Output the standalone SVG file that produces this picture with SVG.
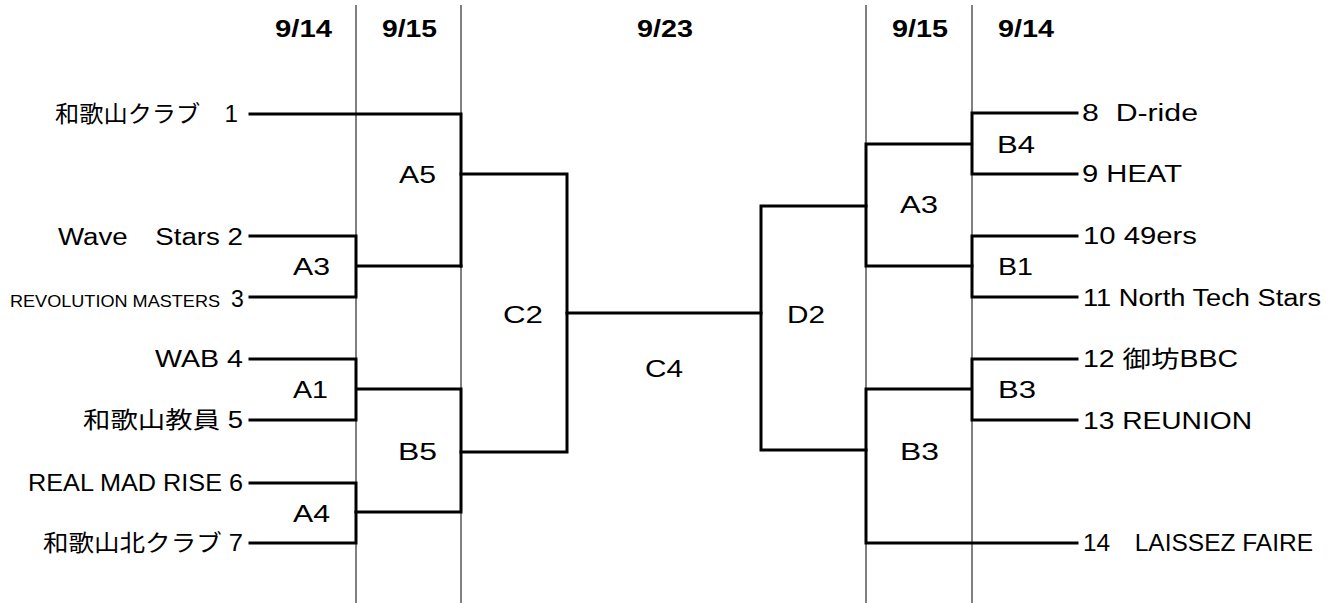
<svg xmlns="http://www.w3.org/2000/svg" width="1339" height="603" viewBox="0 0 1339 603">
<style>
.grid{stroke:#000;stroke-width:1;fill:none}
.br{stroke:#000;stroke-width:3;fill:none;stroke-linejoin:miter;stroke-linecap:square}
.t{font-family:"Liberation Sans","Noto Sans CJK JP",sans-serif;font-size:23px;fill:#000}
.s{font-size:17px}
.h{font-family:"Liberation Sans","Noto Sans CJK JP",sans-serif;font-size:23px;font-weight:bold;fill:#000}
</style>
<rect width="1339" height="603" fill="#fff"/>
<g id="grid">
<path class="grid" d="M356 5V603M461 5V603M866 5V603M972 5V603"/>
</g>
<g id="headers">
<text class="h" x="275" y="37" textLength="57" lengthAdjust="spacingAndGlyphs">9/14</text>
<text class="h" x="382" y="37" textLength="55" lengthAdjust="spacingAndGlyphs">9/15</text>
<text class="h" x="637" y="37" textLength="56" lengthAdjust="spacingAndGlyphs">9/23</text>
<text class="h" x="892" y="37" textLength="56" lengthAdjust="spacingAndGlyphs">9/15</text>
<text class="h" x="998" y="37" textLength="56" lengthAdjust="spacingAndGlyphs">9/14</text>
</g>
<g id="connectors">
<path class="br" d="M250 114H461V266"/>
<path class="br" d="M250 236H356V297H250M356 266H461"/>
<path class="br" d="M461 174H567V452H461"/>
<path class="br" d="M567 313H761"/>
<path class="br" d="M250 359H356V420H250M356 389H461V512H356"/>
<path class="br" d="M250 483H356V543H250"/>
<path class="br" d="M1077 113H972V174H1077M972 144H866V266H972"/>
<path class="br" d="M1077 236H972V297H1077"/>
<path class="br" d="M866 206H761V450H866"/>
<path class="br" d="M1077 359H972V420H1077M972 389H866V543H1077"/>
</g>
<g id="team1"><text class="t" x="55" y="122" textLength="183" lengthAdjust="spacingAndGlyphs">和歌山クラブ　1</text></g>
<g id="team2"><text class="t" x="58" y="245" textLength="185" lengthAdjust="spacingAndGlyphs">Wave　Stars 2</text></g>
<g id="team3"><text class="t" x="10" y="307"><tspan class="s" textLength="210" lengthAdjust="spacingAndGlyphs">REVOLUTION MASTERS</tspan> <tspan x="231">3</tspan></text></g>
<g id="team4"><text class="t" x="155" y="367" textLength="88" lengthAdjust="spacingAndGlyphs">WAB 4</text></g>
<g id="team5"><text class="t" x="83" y="428" textLength="160" lengthAdjust="spacingAndGlyphs">和歌山教員 5</text></g>
<g id="team6"><text class="t" x="28" y="491" textLength="215" lengthAdjust="spacingAndGlyphs">REAL MAD RISE 6</text></g>
<g id="team7"><text class="t" x="43" y="551" textLength="200" lengthAdjust="spacingAndGlyphs">和歌山北クラブ 7</text></g>
<g id="team8"><text class="t" x="1082" y="121" xml:space="preserve" textLength="116" lengthAdjust="spacingAndGlyphs">8  D-ride</text></g>
<g id="team9"><text class="t" x="1082" y="182" textLength="100" lengthAdjust="spacingAndGlyphs">9 HEAT</text></g>
<g id="team10"><text class="t" x="1083" y="244" textLength="114" lengthAdjust="spacingAndGlyphs">10 49ers</text></g>
<g id="team11"><text class="t" x="1083" y="306" textLength="238" lengthAdjust="spacingAndGlyphs">11 North Tech Stars</text></g>
<g id="team12"><text class="t" x="1083" y="367" textLength="155" lengthAdjust="spacingAndGlyphs">12 御坊BBC</text></g>
<g id="team13"><text class="t" x="1083" y="429" textLength="169" lengthAdjust="spacingAndGlyphs">13 REUNION</text></g>
<g id="team14"><text class="t" x="1083" y="551" textLength="230" lengthAdjust="spacingAndGlyphs">14　LAISSEZ FAIRE</text></g>
<g id="matchA5"><text class="t" x="399" y="183" textLength="37" lengthAdjust="spacingAndGlyphs">A5</text></g>
<g id="matchA3L"><text class="t" x="293" y="275" textLength="37" lengthAdjust="spacingAndGlyphs">A3</text></g>
<g id="matchA1"><text class="t" x="293" y="398" textLength="35" lengthAdjust="spacingAndGlyphs">A1</text></g>
<g id="matchA4"><text class="t" x="293" y="522" textLength="37" lengthAdjust="spacingAndGlyphs">A4</text></g>
<g id="matchB5"><text class="t" x="398" y="460" textLength="39" lengthAdjust="spacingAndGlyphs">B5</text></g>
<g id="matchC2"><text class="t" x="503" y="323" textLength="40" lengthAdjust="spacingAndGlyphs">C2</text></g>
<g id="matchC4"><text class="t" x="645" y="377" textLength="38" lengthAdjust="spacingAndGlyphs">C4</text></g>
<g id="matchD2"><text class="t" x="787" y="323" textLength="38" lengthAdjust="spacingAndGlyphs">D2</text></g>
<g id="matchA3R"><text class="t" x="900" y="213" textLength="38" lengthAdjust="spacingAndGlyphs">A3</text></g>
<g id="matchB4"><text class="t" x="997" y="153" textLength="38" lengthAdjust="spacingAndGlyphs">B4</text></g>
<g id="matchB1"><text class="t" x="998" y="275" textLength="35" lengthAdjust="spacingAndGlyphs">B1</text></g>
<g id="matchB3S"><text class="t" x="998" y="398" textLength="38" lengthAdjust="spacingAndGlyphs">B3</text></g>
<g id="matchB3L"><text class="t" x="900" y="460" textLength="39" lengthAdjust="spacingAndGlyphs">B3</text></g>
</svg>
